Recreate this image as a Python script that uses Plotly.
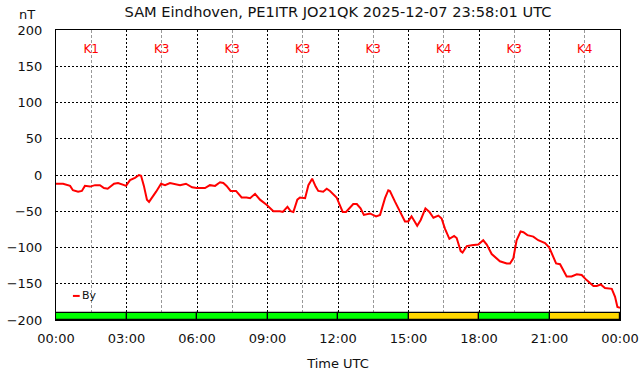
import plotly.graph_objects as go
import pandas as pd

# ---- data ----
hours = [0, 0.3, 0.6, 0.72, 0.94, 1.1, 1.23, 1.45, 1.66, 1.87, 2.04, 2.2, 2.47, 2.64, 2.9, 2.98,
         3.15, 3.36, 3.53, 3.62, 3.74, 3.87, 3.96, 4.08, 4.26, 4.47, 4.64, 4.85, 5.06, 5.28, 5.53, 5.79,
         5.99, 6.34, 6.55, 6.77, 6.98, 7.12, 7.26, 7.43, 7.66, 7.9, 8.11, 8.26, 8.47, 8.68, 8.96, 9.1,
         9.25, 9.53, 9.65, 9.85, 9.99, 10.1, 10.27, 10.38, 10.6, 10.74, 10.9, 11.05, 11.16, 11.37, 11.52,
         11.66, 11.94, 12.2, 12.34, 12.65, 12.8, 12.96, 13.1, 13.36, 13.62, 13.79, 14.0, 14.14, 14.21,
         14.43, 14.64, 14.85, 14.99, 15.13, 15.37, 15.52, 15.72, 15.89, 16.06, 16.27, 16.41, 16.55, 16.74,
         16.94, 17.05, 17.22, 17.3, 17.48, 17.69, 17.97, 18.18, 18.33, 18.54, 18.89, 19.18, 19.32, 19.46,
         19.6, 19.77, 19.89, 20.06, 20.31, 20.52, 20.81, 20.99, 21.16, 21.28, 21.45, 21.73, 21.94, 22.16,
         22.37, 22.58, 22.87, 23.01, 23.18, 23.36, 23.65, 23.79, 23.89, 24.0]
by_nT = [-12, -12, -15, -21, -23, -22, -15, -16, -14, -14, -18, -19, -12, -11, -14, -15,
         -7, -4, 0, -1, -15, -34, -37, -32, -23, -12, -14, -11, -12, -14, -12, -17,
         -18, -18, -14, -15, -10, -11, -15, -22, -22, -31, -31, -32, -26, -34, -41, -46,
         -50, -50, -51, -44, -50, -51, -34, -31, -32, -14, -5, -16, -22, -23, -19,
         -22, -31, -51, -51, -40, -40, -46, -55, -53, -57, -55, -32, -21, -22,
         -37, -51, -64, -64, -57, -70, -62, -46, -51, -59, -56, -60, -74, -88,
         -84, -87, -105, -107, -98, -97, -96, -90, -96, -109, -119, -122, -122, -115,
         -90, -78, -79, -83, -85, -90, -94, -100, -113, -122, -123, -140, -140, -137,
         -138, -145, -153, -153, -151, -156, -157, -168, -182, -183]

k_block_start_hours = [0, 3, 6, 9, 12, 15, 18, 21]
k_index = [1, 3, 3, 3, 3, 4, 3, 4]

day = pd.Timestamp("2025-12-07 00:00:00")

# ---- styling ----
FONT = "DejaVu Sans"
RED = "#ff0000"
K_LABEL_Y = 172
BAR_BASE = -200
BAR_HEIGHT = 10
H = 3600 * 1000  # one hour in ms


def to_time(h):
    return day + pd.Timedelta(hours=h)


def k_color(k):
    return "#ffd700" if k >= 4 else "#00ff00"


centers = [to_time(h + 1.5) for h in k_block_start_hours]

fig = go.Figure()

# K-index colour bar along bottom
fig.add_trace(go.Bar(
    x=centers, y=[BAR_HEIGHT] * len(k_index), base=BAR_BASE, width=3 * H,
    marker=dict(color=[k_color(k) for k in k_index], line=dict(color="black", width=1.2)),
    showlegend=False, hoverinfo="skip"))

# K labels
fig.add_trace(go.Scatter(
    x=centers, y=[K_LABEL_Y] * len(k_index), mode="text",
    text=[f"K{k}" for k in k_index], textfont=dict(color=RED, size=12, family=FONT),
    showlegend=False, hoverinfo="skip"))

# By curve
fig.add_trace(go.Scatter(
    x=[to_time(h) for h in hours], y=by_nT, mode="lines", name="By",
    line=dict(color=RED, width=2), showlegend=False))

fig.update_layout(
    width=642, height=376, autosize=False,
    margin=dict(l=56, r=22, t=30, b=56, autoexpand=False),
    paper_bgcolor="white", plot_bgcolor="white",
    font=dict(family=FONT, size=13, color="#111"),
    title=dict(text="SAM Eindhoven, PE1ITR JO21QK 2025-12-07 23:58:01 UTC",
               x=0.5, xref="paper", xanchor="center", y=0.968, yref="container",
               yanchor="middle",
               font=dict(size=14.6, family=FONT, color="#111")),
    bargap=0, showlegend=False,
)

fig.update_xaxes(
    type="date", range=[to_time(0), to_time(24)],
    tick0=to_time(0), dtick=3 * H, tickformat="%H:%M",
    showgrid=True, gridcolor="black", griddash="2px,2px", gridwidth=1,
    minor=dict(tick0=to_time(0), dtick=1.5 * H, showgrid=True,
               gridcolor="#999999", griddash="3px,2px", gridwidth=1, ticks=""),
    showline=True, linecolor="black", linewidth=1, mirror=True,
    ticks="", ticklabelstandoff=6, zeroline=False, automargin=False,
    title=dict(text="Time UTC", standoff=14, font=dict(size=13, family=FONT)),
)

fig.update_yaxes(
    range=[-200, 200], tickmode="array", tickvals=list(range(-200, 201, 50)),
    showgrid=True, gridcolor="black", griddash="2px,2px", gridwidth=1,
    showline=True, linecolor="black", linewidth=1, mirror=True,
    ticks="", ticklabelstandoff=10, zeroline=False, automargin=False,
)

# unit label
fig.add_annotation(text="nT", xref="paper", yref="paper", x=-0.051, y=1.052,
                   xanchor="center", yanchor="middle", showarrow=False,
                   font=dict(size=13, family=FONT))

# manual legend (short swatch like the original)
fig.add_shape(type="line", xref="paper", yref="paper", x0=0.030, x1=0.042, y0=0.083, y1=0.083,
              line=dict(color=RED, width=2))
fig.add_annotation(text="By", xref="paper", yref="paper", x=0.043, y=0.083,
                   xanchor="left", yanchor="middle", showarrow=False,
                   font=dict(size=11, family=FONT))

fig.write_html("out.html", config={"displayModeBar": False},
               post_script="document.body.style.margin='0';document.body.style.overflow='hidden';")
